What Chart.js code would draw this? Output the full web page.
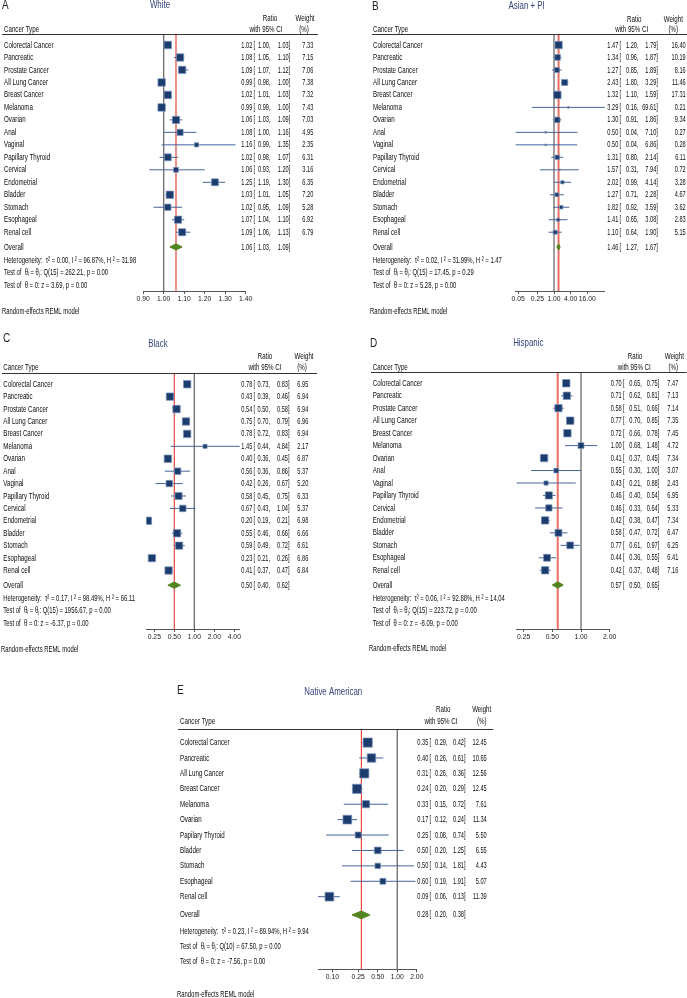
<!DOCTYPE html>
<html>
<head>
<meta charset="utf-8">
<script src="https://cdn.jsdelivr.net/npm/chart.js@4.4.0/dist/chart.umd.min.js"></script>
<style>
  html, body { margin: 0; padding: 0; background: #fff; }
  #page { position: relative; width: 687px; height: 998px; overflow: hidden; background: #fff; }
  #page canvas { position: absolute; }
</style>
</head>
<body>
<div id="page"></div>
<script>
// ---------- data ----------
const cancerTypes = ['Colorectal Cancer', 'Pancreatic', 'Prostate Cancer', 'All Lung Cancer', 'Breast Cancer',
  'Melanoma', 'Ovarian', 'Anal', 'Vaginal', 'Papillary Thyroid', 'Cervical', 'Endometrial', 'Bladder',
  'Stomach', 'Esophageal', 'Renal cell'];
const cancerTypesNative = ['Colorectal Cancer', 'Pancreatic', 'All Lung Cancer', 'Breast Cancer', 'Melanoma',
  'Ovarian', 'Papilary Thyroid', 'Bladder', 'Stomach', 'Esophageal', 'Renal cell'];

// A - White
const whiteRatio  = [1.02, 1.08, 1.09, 0.99, 1.02, 0.99, 1.06, 1.08, 1.16, 1.02, 1.06, 1.25, 1.03, 1.02, 1.07, 1.09];
const whiteLower  = [1.00, 1.05, 1.07, 0.98, 1.01, 0.99, 1.03, 1.00, 0.99, 0.98, 0.93, 1.19, 1.01, 0.95, 1.04, 1.06];
const whiteUpper  = [1.03, 1.10, 1.12, 1.00, 1.03, 1.00, 1.09, 1.16, 1.35, 1.07, 1.20, 1.30, 1.05, 1.09, 1.10, 1.13];
const whiteWeight = [7.33, 7.15, 7.06, 7.38, 7.32, 7.43, 7.03, 4.95, 2.35, 6.31, 3.16, 6.35, 7.20, 5.28, 6.92, 6.79];
const whiteOverall = [1.06, 1.03, 1.09];
const whiteTicks = [0.90, 1.00, 1.10, 1.20, 1.30, 1.40];
const whiteStats = ['Heterogeneity:  \u03C4\u00B2 = 0.00, I \u00B2 = 96.87%, H \u00B2 = 31.98',
  'Test of  \u03B8\u1D62 = \u03B8\u2C7C: Q(15) = 262.21, p = 0.00', 'Test of  \u03B8 = 0: z = 3.69, p = 0.00'];

// B - Asian + PI
const asianRatio  = [1.47, 1.34, 1.27, 2.43, 1.32, 3.29, 1.30, 0.50, 0.50, 1.31, 1.57, 2.02, 1.27, 1.82, 1.41, 1.10];
const asianLower  = [1.20, 0.96, 0.85, 1.80, 1.10, 0.16, 0.91, 0.04, 0.04, 0.80, 0.31, 0.99, 0.71, 0.92, 0.65, 0.64];
const asianUpper  = [1.79, 1.87, 1.89, 3.29, 1.59, 69.61, 1.86, 7.10, 6.86, 2.14, 7.94, 4.14, 2.28, 3.59, 3.08, 1.90];
const asianWeight = [16.40, 10.19, 8.16, 11.46, 17.31, 0.21, 9.34, 0.27, 0.28, 6.11, 0.72, 3.28, 4.67, 3.62, 2.83, 5.15];
const asianOverall = [1.46, 1.27, 1.67];
const asianTicks = [0.05, 0.25, 1.00, 4.00, 16.00];
const asianStats = ['Heterogeneity:  \u03C4\u00B2 = 0.02, I \u00B2 = 31.99%, H \u00B2 = 1.47',
  'Test of  \u03B8\u1D62 = \u03B8\u2C7C: Q(15) = 17.45, p = 0.29', 'Test of  \u03B8 = 0: z = 5.28, p = 0.00'];

// C - Black
const blackRatio  = [0.78, 0.43, 0.54, 0.75, 0.78, 1.45, 0.40, 0.56, 0.42, 0.58, 0.67, 0.20, 0.55, 0.59, 0.23, 0.41];
const blackLower  = [0.73, 0.39, 0.50, 0.70, 0.72, 0.44, 0.36, 0.36, 0.26, 0.45, 0.43, 0.19, 0.46, 0.49, 0.21, 0.37];
const blackUpper  = [0.83, 0.46, 0.58, 0.79, 0.83, 4.84, 0.45, 0.86, 0.67, 0.75, 1.04, 0.21, 0.66, 0.72, 0.26, 0.47];
const blackWeight = [6.95, 6.94, 6.94, 6.96, 6.94, 2.17, 6.87, 5.37, 5.20, 6.33, 5.37, 6.98, 6.66, 6.61, 6.86, 6.84];
const blackOverall = [0.50, 0.40, 0.62];
const blackTicks = [0.25, 0.50, 1.00, 2.00, 4.00];
const blackStats = ['Heterogeneity:  \u03C4\u00B2 = 0.17, I \u00B2 = 98.49%, H \u00B2 = 66.11',
  'Test of  \u03B8\u1D62 = \u03B8\u2C7C: Q(15) = 1956.67, p = 0.00', 'Test of  \u03B8 = 0: z = -6.37, p = 0.00'];

// D - Hispanic
const hispRatio  = [0.70, 0.71, 0.58, 0.77, 0.72, 1.00, 0.41, 0.55, 0.43, 0.46, 0.46, 0.42, 0.58, 0.77, 0.44, 0.42];
const hispLower  = [0.65, 0.62, 0.51, 0.70, 0.66, 0.68, 0.37, 0.30, 0.21, 0.40, 0.33, 0.38, 0.47, 0.61, 0.36, 0.37];
const hispUpper  = [0.75, 0.81, 0.66, 0.85, 0.78, 1.48, 0.45, 1.00, 0.88, 0.54, 0.64, 0.47, 0.72, 0.97, 0.55, 0.48];
const hispWeight = [7.47, 7.13, 7.14, 7.35, 7.45, 4.72, 7.34, 3.07, 2.43, 6.95, 5.33, 7.34, 6.47, 6.25, 6.41, 7.16];
const hispOverall = [0.57, 0.50, 0.65];
const hispTicks = [0.25, 0.50, 1.00, 2.00];
const hispStats = ['Heterogeneity:  \u03C4\u00B2 = 0.06, I \u00B2 = 92.88%, H \u00B2 = 14.04',
  'Test of  \u03B8\u1D62 = \u03B8\u2C7C: Q(15) = 223.72, p = 0.00', 'Test of  \u03B8 = 0: z = -8.09, p = 0.00'];

// E - Native American
const nativeRatio  = [0.35, 0.40, 0.31, 0.24, 0.33, 0.17, 0.25, 0.50, 0.50, 0.60, 0.09];
const nativeLower  = [0.29, 0.26, 0.26, 0.20, 0.15, 0.12, 0.08, 0.20, 0.14, 0.19, 0.06];
const nativeUpper  = [0.42, 0.61, 0.36, 0.29, 0.72, 0.24, 0.74, 1.25, 1.81, 1.91, 0.13];
const nativeWeight = [12.45, 10.65, 12.56, 12.45, 7.61, 11.34, 5.50, 6.55, 4.43, 5.07, 11.39];
const nativeOverall = [0.28, 0.20, 0.38];
const nativeTicks = [0.10, 0.25, 0.50, 1.00, 2.00];
const nativeStats = ['Heterogeneity:  \u03C4\u00B2 = 0.23, I \u00B2 = 89.94%, H \u00B2 = 9.94',
  'Test of  \u03B8\u1D62 = \u03B8\u2C7C: Q(10) = 67.50, p = 0.00', 'Test of  \u03B8 = 0: z = -7.56, p = 0.00'];

// ---------- styling ----------
const AXIS_H = 14;
const FAMILY = '"Liberation Sans", Arial, sans-serif';
const TXT_FONT = '9.4px ' + FAMILY;
const TITLE_FONT = '10.4px ' + FAMILY;
const LETTER_FONT = '12.5px ' + FAMILY;
const INK = '#0c0c0c';
const TITLE_INK = '#34437a';
const SX_TXT = 0.66, SX_NUM = 0.6;
const SQUARE = '#1c3c6e', HALO = 'rgba(125,150,190,0.9)', CI_LINE = '#44649a', DIAMOND = '#52841f';

// pick a narrow face for tick labels if one is installed
function hasFont(name) {
  const c = document.createElement('canvas').getContext('2d');
  c.font = '20px monospace';
  const a = c.measureText('0.90 Colorectal').width;
  c.font = '20px "' + name + '", monospace';
  return c.measureText('0.90 Colorectal').width !== a;
}
const narrow = hasFont('Liberation Sans Narrow');
const tickFont = narrow ? { family: '"Liberation Sans Narrow"', size: 7.8 } : { family: FAMILY, size: 6.8 };

const panels = [
  { letter: 'A', title: 'White', names: cancerTypes, ratio: whiteRatio, lower: whiteLower, upper: whiteUpper,
    weight: whiteWeight, overall: whiteOverall, stats: whiteStats, ticks: whiteTicks, log: false,
    box: { left: 0, top: 0, w: 340, h: 322 }, plot: { left: 143.2, right: 245.7, top: 34, bottom: 291 },
    letterPos: [2, 6], titlePos: [160, 5], ratioHdr: [270, 18], ciHdr: [266, 29], wtHdr: [305, 18], pctHdr: [304, 29],
    typeHdr: [4, 29], rule: [2, 318], labelX: 4, cols: [252.3, 269, 288.7, 313.3], re: [2, 311],
    red: { color: '#e8473b', width: 1.2 } },
  { letter: 'B', title: 'Asian + PI', names: cancerTypes, ratio: asianRatio, lower: asianLower, upper: asianUpper,
    weight: asianWeight, overall: asianOverall, stats: asianStats, ticks: asianTicks, log: true,
    box: { left: 345, top: 0, w: 342, h: 322 }, plot: { left: 170.4, right: 259.9, top: 34, bottom: 291 },
    letterPos: [27, 6.3], titlePos: [181.7, 6], ratioHdr: [289.3, 19], ciHdr: [286.7, 29.5], wtHdr: [328.3, 19], pctHdr: [328.3, 29.5],
    typeHdr: [28, 29.5], rule: [27, 342], labelX: 28, cols: [273.3, 292, 311.3, 340.7], re: [25, 311],
    red: { color: '#ec6f64', width: 2 } },
  { letter: 'C', title: 'Black', names: cancerTypes, ratio: blackRatio, lower: blackLower, upper: blackUpper,
    weight: blackWeight, overall: blackOverall, stats: blackStats, ticks: blackTicks, log: true,
    box: { left: 0, top: 330, w: 340, h: 325 }, plot: { left: 146.4, right: 239.8, top: 43.3, bottom: 299 },
    letterPos: [3, 9], titlePos: [158, 14], ratioHdr: [265, 26.7], ciHdr: [265, 37.7], wtHdr: [304, 26.7], pctHdr: [302, 37.7],
    typeHdr: [3.3, 37.7], rule: [2, 317], labelX: 3.3, cols: [252.3, 268.5, 288, 308.3], re: [1, 319],
    red: { color: '#e8473b', width: 1.2 } },
  { letter: 'D', title: 'Hispanic', names: cancerTypes, ratio: hispRatio, lower: hispLower, upper: hispUpper,
    weight: hispWeight, overall: hispOverall, stats: hispStats, ticks: hispTicks, log: true,
    box: { left: 345, top: 330, w: 342, h: 325 }, plot: { left: 171.4, right: 264.7, top: 42.3, bottom: 299 },
    letterPos: [25, 13.3], titlePos: [183.3, 13.3], ratioHdr: [290, 26.7], ciHdr: [289.3, 37.7], wtHdr: [329.3, 26.7], pctHdr: [328.3, 37.7],
    typeHdr: [27.7, 37.3], rule: [26, 341.7], labelX: 27.7, cols: [276.7, 295.3, 312.7, 333.3], re: [24, 318],
    red: { color: '#ec6f64', width: 2 } },
  { letter: 'E', title: 'Native American', names: cancerTypesNative, ratio: nativeRatio, lower: nativeLower, upper: nativeUpper,
    weight: nativeWeight, overall: nativeOverall, stats: nativeStats, ticks: nativeTicks, log: true,
    box: { left: 175, top: 675, w: 345, h: 323 }, plot: { left: 143, right: 241.8, top: 54, bottom: 294.3 },
    letterPos: [2, 15.5], titlePos: [158.3, 17.3], ratioHdr: [268.3, 34.3], ciHdr: [266, 46.7], wtHdr: [306.7, 34.3], pctHdr: [306.7, 46.7],
    typeHdr: [5, 46.7], rule: [3, 318.3], labelX: 5, cols: [253.3, 271, 289, 311.7], re: [2, 319],
    red: { color: '#e8473b', width: 1.2 } }
];

// draw condensed text
function label(ctx, s, x, y, align, font, color, sx) {
  ctx.save();
  ctx.font = font;
  ctx.fillStyle = color;
  ctx.textAlign = align;
  ctx.textBaseline = 'middle';
  ctx.translate(x, y);
  ctx.scale(sx, 1);
  ctx.fillText(s, 0, 0);
  ctx.restore();
}

function ratioText(ctx, est, lo, hi, y, cols) {
  label(ctx, est.toFixed(2), cols[0], y, 'right', TXT_FONT, INK, SX_NUM);
  label(ctx, '[', cols[0] + 1.2, y, 'left', TXT_FONT, INK, SX_NUM);
  label(ctx, lo.toFixed(2), cols[1], y, 'right', TXT_FONT, INK, SX_NUM);
  label(ctx, ',', cols[1], y, 'left', TXT_FONT, INK, SX_NUM);
  label(ctx, hi.toFixed(2), cols[2], y, 'right', TXT_FONT, INK, SX_NUM);
  label(ctx, ']', cols[2], y, 'left', TXT_FONT, INK, SX_NUM);
}

function makeTextPlugin(p, overallRow, statRows) {
  return {
    id: 'forestText' + p.letter,
    afterDraw(chart) {
      const ctx = chart.ctx;
      const ys = chart.scales.y;
      const top = Math.round(chart.chartArea.top) + 0.5;

      // header rule
      ctx.save();
      ctx.strokeStyle = '#333';
      ctx.lineWidth = 1;
      ctx.beginPath();
      ctx.moveTo(p.rule[0], top);
      ctx.lineTo(p.rule[1], top);
      ctx.stroke();
      ctx.restore();

      label(ctx, p.letter, p.letterPos[0], p.letterPos[1], 'left', LETTER_FONT, '#222', 0.8);
      label(ctx, p.title, p.titlePos[0], p.titlePos[1], 'center', TITLE_FONT, TITLE_INK, 0.76);
      label(ctx, 'Ratio', p.ratioHdr[0], p.ratioHdr[1], 'center', TXT_FONT, INK, SX_TXT);
      label(ctx, 'with 95% CI', p.ciHdr[0], p.ciHdr[1], 'center', TXT_FONT, INK, SX_TXT);
      label(ctx, 'Weight', p.wtHdr[0], p.wtHdr[1], 'center', TXT_FONT, INK, SX_TXT);
      label(ctx, '(%)', p.pctHdr[0], p.pctHdr[1], 'center', TXT_FONT, INK, SX_TXT);
      label(ctx, 'Cancer Type', p.typeHdr[0], p.typeHdr[1], 'left', TXT_FONT, INK, SX_TXT);

      p.names.forEach((name, i) => {
        const y = ys.getPixelForValue(i);
        label(ctx, name, p.labelX, y, 'left', TXT_FONT, INK, SX_TXT);
        ratioText(ctx, p.ratio[i], p.lower[i], p.upper[i], y, p.cols);
        label(ctx, p.weight[i].toFixed(2), p.cols[3], y, 'right', TXT_FONT, INK, SX_NUM);
      });

      const yo = ys.getPixelForValue(overallRow);
      label(ctx, 'Overall', p.labelX, yo, 'left', TXT_FONT, INK, SX_TXT);
      ratioText(ctx, p.overall[0], p.overall[1], p.overall[2], yo, p.cols);

      p.stats.forEach((s, k) => {
        label(ctx, s, p.labelX, ys.getPixelForValue(statRows[k]), 'left', TXT_FONT, INK, SX_TXT - 0.03);
      });

      label(ctx, 'Random-effects REML model', p.re[0], p.re[1], 'left', TXT_FONT, INK, SX_TXT - 0.03);
    }
  };
}

const page = document.getElementById('page');

panels.forEach(p => {
  const n = p.names.length;
  const headRow = -0.88;
  const overallRow = n - 1 + 1.18;
  const statRows = [overallRow + 1.05, overallRow + 2.05, overallRow + 3.05];
  const axisRow = overallRow + 3.53;
  const spacing = (p.plot.bottom - p.plot.top) / (axisRow - headRow);
  const wmax = Math.max(...p.weight);
  const sides = p.weight.map(w => Math.max(1.6, 0.6 * spacing * Math.sqrt(w / wmax)));
  const xMin = Math.min(...p.lower, p.ticks[0]);
  const xMax = Math.max(...p.upper, p.ticks[p.ticks.length - 1]);
  const dh = 0.25;

  const canvas = document.createElement('canvas');
  canvas.width = p.box.w;
  canvas.height = p.box.h;
  canvas.style.left = p.box.left + 'px';
  canvas.style.top = p.box.top + 'px';
  canvas.style.width = p.box.w + 'px';
  canvas.style.height = p.box.h + 'px';
  page.appendChild(canvas);

  const datasets = [];
  // study squares
  datasets.push({
    data: p.ratio.map((v, i) => ({ x: v, y: i })),
    pointStyle: 'rect',
    pointRadius: c => sides[c.dataIndex] / Math.SQRT2,
    backgroundColor: SQUARE,
    borderColor: HALO,
    borderWidth: 0.8,
    order: 0
  });
  // overall diamond
  datasets.push({
    data: [
      { x: p.overall[1], y: overallRow }, { x: p.overall[0], y: overallRow - dh },
      { x: p.overall[2], y: overallRow }, { x: p.overall[0], y: overallRow + dh },
      { x: p.overall[1], y: overallRow }
    ],
    showLine: true, fill: 'shape', tension: 0,
    backgroundColor: DIAMOND, borderColor: DIAMOND, borderWidth: 1,
    pointRadius: 0, order: 1
  });
  // confidence intervals
  p.ratio.forEach((v, i) => {
    datasets.push({
      data: [{ x: p.lower[i], y: i }, { x: p.upper[i], y: i }],
      showLine: true, borderColor: CI_LINE, borderWidth: 1, pointRadius: 0, order: 2
    });
  });
  // overall estimate line
  datasets.push({
    data: [{ x: p.overall[0], y: headRow }, { x: p.overall[0], y: axisRow }],
    showLine: true, borderColor: p.red.color, borderWidth: p.red.width, pointRadius: 0, order: 3
  });
  // no-effect line
  datasets.push({
    data: [{ x: 1, y: headRow }, { x: 1, y: axisRow }],
    showLine: true, borderColor: '#6a6a6a', borderWidth: 1.3, pointRadius: 0, order: 4
  });

  new Chart(canvas, {
    type: 'scatter',
    data: { datasets: datasets },
    options: {
      responsive: false,
      animation: false,
      devicePixelRatio: 1,
      events: [],
      layout: {
        padding: {
          left: p.plot.left,
          right: p.box.w - p.plot.right,
          top: p.plot.top,
          bottom: p.box.h - p.plot.bottom - AXIS_H
        }
      },
      plugins: { legend: { display: false }, tooltip: { enabled: false } },
      scales: {
        x: {
          type: p.log ? 'logarithmic' : 'linear',
          min: xMin,
          max: xMax,
          afterBuildTicks: ax => { ax.ticks = p.ticks.map(v => ({ value: v })); },
          afterFit: ax => { ax.height = AXIS_H; },
          ticks: {
            autoSkip: false, maxRotation: 0, minRotation: 0, padding: 1, color: '#1a1a1a',
            font: tickFont,
            callback: v => Number(v).toFixed(2)
          },
          grid: { display: true, drawOnChartArea: false, drawTicks: true, tickLength: 3, color: '#555', lineWidth: 1 },
          border: { display: true, color: '#555', width: 1 }
        },
        y: {
          type: 'linear',
          reverse: true,
          min: headRow,
          max: axisRow,
          display: false
        }
      }
    },
    plugins: [makeTextPlugin(p, overallRow, statRows)]
  });
});
</script>
</body>
</html>
